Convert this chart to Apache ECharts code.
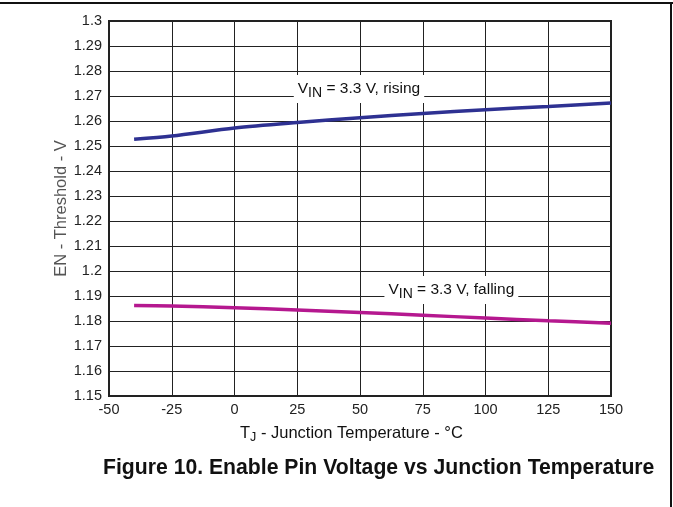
<!DOCTYPE html>
<html><head><meta charset="utf-8">
<script src="https://cdn.jsdelivr.net/npm/echarts@6/dist/echarts.min.js"></script>
<style>html,body{margin:0;padding:0;background:#fff}#c{width:673px;height:507px}</style>
</head><body><div id="c"></div>
<script>
const temps = [-40, -25, 0, 25, 50, 75, 100, 125, 150];
const rising = [1.2527, 1.2540, 1.2572, 1.2594, 1.2613, 1.2630, 1.2645, 1.2658, 1.2672];
const falling = [1.1862, 1.1860, 1.1853, 1.1844, 1.1834, 1.1823, 1.1812, 1.1801, 1.1791];
const xTicks = {min: -50, max: 150, step: 25};
const yTicks = {min: 1.15, max: 1.30, step: 0.01};
const risingLabel = {x: 49.6, y: 1.2728, text: ' = 3.3 V, rising'};
const fallingLabel = {x: 86.4, y: 1.1924, text: ' = 3.3 V, falling'};

const FONT = '"Liberation Sans", Arial, sans-serif';
const chart = echarts.init(document.getElementById('c'), null, {renderer: 'canvas'});

function pairs(xs, ys){ return xs.map((x,i)=>[x, ys[i]]); }
function lbl(l){
  return {
    coord: [l.x, l.y],
    symbol: 'rect', symbolSize: 0,
    label: {
      show: true, position: 'inside',
      backgroundColor: '#fff', padding: [3, 4, 3, 4],
      formatter: '{v|V}{s|IN}{v|' + l.text + '}',
      rich: {
        v: {fontFamily: FONT, fontSize: 15.5, color: '#111', lineHeight: 22, verticalAlign: 'middle'},
        s: {fontFamily: FONT, fontSize: 14, color: '#111', lineHeight: 22, padding: [8, 0, 0, 0], verticalAlign: 'middle'}
      }
    }
  };
}

chart.setOption({
  animation: false,
  backgroundColor: '#fff',
  grid: {left: 109, right: 62, top: 21, bottom: 111, show: true, borderColor: '#222', borderWidth: 2, backgroundColor: 'transparent', z: 3},
  graphic: [
    {type: 'line', shape: {x1: 0, y1: 3, x2: 673, y2: 3}, style: {stroke: '#111', lineWidth: 2}},
    {type: 'line', shape: {x1: 671, y1: 3, x2: 671, y2: 507}, style: {stroke: '#111', lineWidth: 2}},
    {type: 'text', x: 240, y: 422,
      style: {text: '{t|T}{s|J}{t| - Junction Temperature - °C}', rich: {
        t: {fontFamily: FONT, fontSize: 16.5, fill: '#111', lineHeight: 22},
        s: {fontFamily: FONT, fontSize: 12.5, fill: '#111', lineHeight: 22, padding: [9,0,0,0]}
      }}},
    {type: 'text', x: 103, y: 458,
      style: {text: 'Figure 10. Enable Pin Voltage vs Junction Temperature', fontFamily: FONT, fontSize: 21.2, fontWeight: 'bold', fill: '#111'}}
  ],
  xAxis: {
    type: 'value', min: xTicks.min, max: xTicks.max, interval: xTicks.step,
    axisLine: {show: false}, axisTick: {show: false},
    axisLabel: {color: '#222', fontFamily: FONT, fontSize: 14.5, margin: 6},
    splitLine: {show: true, lineStyle: {color: '#222', width: 1}}
  },
  yAxis: {
    type: 'value', min: yTicks.min, max: yTicks.max, interval: yTicks.step,
    name: 'EN - Threshold - V', nameLocation: 'middle', nameGap: 39, nameMoveOverlap: false,
    nameTextStyle: {color: '#555', fontFamily: FONT, fontSize: 16.5},
    axisLine: {show: false}, axisTick: {show: false},
    axisLabel: {color: '#222', fontFamily: FONT, fontSize: 14.5, margin: 7, padding: [0,0,4,0],
      formatter: v => String(+(+v).toFixed(2))},
    splitLine: {show: true, lineStyle: {color: '#222', width: 1}}
  },
  series: [
    {type: 'line', data: pairs(temps, rising), symbol: 'none', smooth: 0.3, z: 5,
      lineStyle: {color: '#2e3192', width: 3.5},
      markPoint: {data: [lbl(risingLabel)], z: 6}},
    {type: 'line', data: pairs(temps, falling), symbol: 'none', smooth: 0.3, z: 5,
      lineStyle: {color: '#b5188f', width: 3.5},
      markPoint: {data: [lbl(fallingLabel)], z: 6}}
  ]
});
</script></body></html>
